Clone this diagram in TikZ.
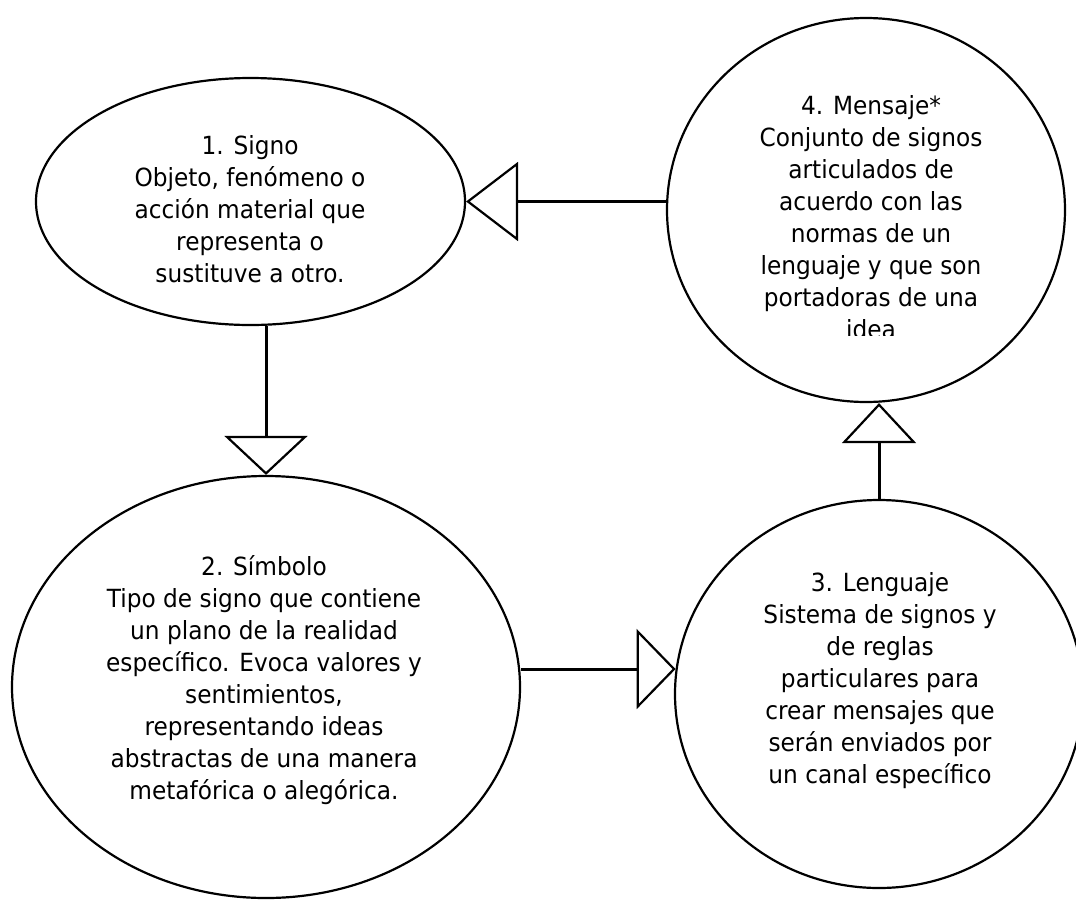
\documentclass[tikz,border=0pt]{standalone}
\usepackage{fontspec}
\setmainfont{DejaVu Sans}[FakeStretch=0.93]
\usetikzlibrary{shapes.geometric,arrows.meta}
\begin{document}
\begin{tikzpicture}[x=1pt,y=-1pt,
  bubble/.style={draw,ellipse,line width=2.2pt,inner sep=0pt},
  txt/.style={align=center,font=\fontsize{25}{32}\selectfont,inner sep=0pt},
  conn/.style={line width=3pt,-{Triangle[open,line width=2.2pt,#1]}},
]
\useasboundingbox[fill=white] (0,0) rectangle (1076,900);
% ellipses
\node[bubble,minimum width=429pt,minimum height=247pt] (e1) at (250.5,201.5) {};
\node[bubble,minimum width=508pt,minimum height=422pt] (e2) at (266,687) {};
\node[bubble,minimum width=408pt,minimum height=388pt] (e3) at (879,694) {};
\node[bubble,minimum width=398pt,minimum height=384pt] (e4) at (866,210) {};
% texts
\node[txt] (t1) at (250,209) {1. Signo\\Objeto, fenómeno o\\acción material que\\representa o\\sustituve a otro.};
\node[txt] (t2) at (264,680) {2. Símbolo\\Tipo de signo que contiene\\un plano de la realidad\\específico. Evoca valores y\\sentimientos,\\representando ideas\\abstractas de una manera\\metafórica o alegórica.};
\node[txt] (t3) at (880,681) {3. Lenguaje\\Sistema de signos y\\de reglas\\particulares para\\crear mensajes que\\serán enviados por\\un canal específico};
\begin{scope}
\clip (660,0) rectangle (1076,335);
\node[txt] (t4) at (871,217.5) {4. Mensaje*\\Conjunto de signos\\articulados de\\acuerdo con las\\normas de un\\lenguaje y que son\\portadoras de una\\idea};
\end{scope}
% connectors
\draw[conn={length=52pt,width=79pt}] (e1.east -| e4.west) -- (e1.east);
\draw[conn={length=39pt,width=83pt}] (e1.south -| e2.north) -- (e2.north);
\draw[conn={length=39pt,width=80pt}] (e3.173.8 -| e2.east) -- (e3.173.8);
\draw[conn={length=40pt,width=74pt}] (e3.north) -- (e3.north |- e4.south);
\end{tikzpicture}
\end{document}
